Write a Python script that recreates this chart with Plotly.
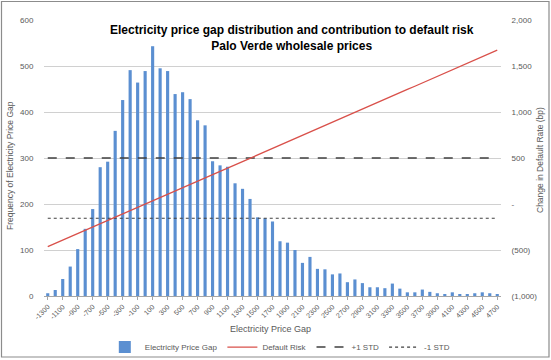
import plotly.graph_objects as go

# ---- data ----
price_gap = list(range(-1300, 4701, 100))
frequency = [6, 13, 37, 64, 102, 146, 189, 280, 292, 359, 426, 491, 464, 489, 543,
             495, 489, 439, 443, 428, 382, 371, 293, 284, 281, 245, 233, 211, 171, 169,
             162, 119, 116, 100, 72, 85, 59, 58, 47, 49, 30, 36, 28, 19, 19,
             17, 27, 16, 8, 8, 14, 9, 6, 4, 8, 4, 3, 6, 8, 6, 3]
default_risk = [-464, -428, -393, -357, -322, -286, -250, -215, -179, -144, -108, -72,
                -37, -1, 34, 70, 106, 141, 177, 212, 248, 284, 319, 355, 390, 426,
                462, 497, 533, 568, 604, 640, 675, 711, 746, 782, 818, 853, 889, 924,
                960, 996, 1031, 1067, 1102, 1138, 1174, 1209, 1245, 1280, 1316, 1352,
                1387, 1423, 1458, 1494, 1530, 1565, 1601, 1636, 1672]
plus_1_std = 300
minus_1_std = 169
x_tick_labels = [str(v) for v in price_gap[::2]]
right_tick_vals = [-1000, -500, 0, 500, 1000, 1500, 2000]
right_tick_text = ["(1,000)", "(500)", "-", "500", "1,000", "1,500", "2,000"]

FONT = "Liberation Sans, Arial, sans-serif"
GRAY = "#595959"

fig = go.Figure()
fig.add_trace(go.Bar(x=price_gap, y=frequency, name="Electricity Price Gap",
                     marker=dict(color="#5b8fd1", line=dict(width=0))))
fig.add_trace(go.Scatter(x=price_gap, y=default_risk, name="Default Risk", mode="lines",
                         line=dict(color="#d9504a", width=1.3), yaxis="y2"))
fig.add_trace(go.Scatter(x=price_gap, y=[plus_1_std] * len(price_gap), name="+1 STD",
                         mode="lines", line=dict(color="#404040", width=1.5, dash="dash")))
fig.add_trace(go.Scatter(x=price_gap, y=[minus_1_std] * len(price_gap), name="-1 STD",
                         mode="lines", line=dict(color="#404040", width=1.2, dash="dot")))

fig.update_layout(
    width=551, height=360,
    margin=dict(l=44, r=50, t=20, b=64, autoexpand=False),
    paper_bgcolor="white", plot_bgcolor="white",
    font=dict(family=FONT, color=GRAY, size=8),
    bargap=0.58,
    showlegend=True,
    legend=dict(orientation="h", x=0.516, xanchor="center", y=-0.185, yanchor="middle",
                font=dict(size=8, color=GRAY), itemwidth=30, tracegroupgap=0,
                bgcolor="rgba(0,0,0,0)"),
    xaxis=dict(range=[-1350, 4750], tickmode="array", tickvals=price_gap[::2],
               ticktext=x_tick_labels, tickangle=-45, tickfont=dict(size=7, color=GRAY),
               showgrid=False, zeroline=False, showline=True, linecolor="#a6a6a6",
               ticks="outside", ticklen=3, tickcolor="#a6a6a6", automargin=False),
    yaxis=dict(range=[0, 600], dtick=100, showgrid=True, gridcolor="#d0d0d0",
               zeroline=False, showline=False, tickfont=dict(size=8, color=GRAY),
               ticks="outside", ticklen=8, tickcolor="rgba(0,0,0,0)", automargin=False),
    yaxis2=dict(range=[-1000, 2000], overlaying="y", side="right", tickmode="array",
                tickvals=right_tick_vals, ticktext=right_tick_text, showgrid=False,
                zeroline=False, showline=False, tickfont=dict(size=8, color=GRAY),
                ticks="outside", ticklen=8, tickcolor="rgba(0,0,0,0)", automargin=False),
)

fig.add_annotation(text="<b>Electricity price gap distribution and contribution to default risk<br>Palo Verde wholesale prices</b>",
                   xref="paper", yref="paper", x=0.543, y=0.935, xanchor="center",
                   yanchor="middle", showarrow=False, align="center",
                   font=dict(size=12, color="black", family=FONT))
fig.add_annotation(text="Frequency of Electricity Price Gap", xref="paper", yref="paper",
                   x=(10 - 44) / 457, y=(296 - 166) / 276, textangle=-90, showarrow=False,
                   xanchor="center", yanchor="middle", font=dict(size=8.5, color=GRAY))
fig.add_annotation(text="Change in Default Rate (bp)", xref="paper", yref="paper",
                   x=(540 - 44) / 457, y=(296 - 160) / 276, textangle=-90, showarrow=False,
                   xanchor="center", yanchor="middle", font=dict(size=8.5, color=GRAY))
fig.add_annotation(text="Electricity Price Gap", xref="paper", yref="paper",
                   x=(270 - 44) / 457, y=(296 - 329) / 276, showarrow=False,
                   xanchor="center", yanchor="middle", font=dict(size=9, color=GRAY))

fig.add_shape(type="rect", xref="paper", yref="paper",
              x0=(1.5 - 44) / 457, x1=(549 - 44) / 457,
              y0=(296 - 357) / 276, y1=(296 - 1.5) / 276,
              line=dict(color="#8c8c8c", width=1.2), fillcolor="rgba(0,0,0,0)")

fig.write_html("out.html", config={"displayModeBar": False},
               post_script="document.body.style.margin='0';document.body.style.padding='0';")
